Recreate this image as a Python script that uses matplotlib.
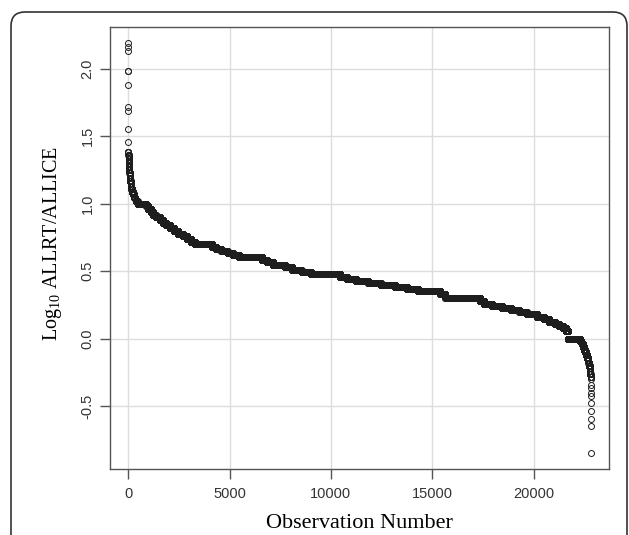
"""Sorted log10 ALLRT/ALLICE ratios vs observation number (R-style scatter)."""

import matplotlib

matplotlib.use("Agg")
import matplotlib.pyplot as plt  # noqa: E402
import numpy as np  # noqa: E402
from matplotlib.patches import FancyBboxPatch  # noqa: E402
from matplotlib.ticker import FormatStrFormatter  # noqa: E402

# distinct log10 ratio values, largest first, and how many observations share each
levels = [
    2.19, 2.16, 2.13, 1.98, 1.88, 1.72, 1.69, 1.55, 1.46,
    1.38, 1.36, 1.35, 1.33, 1.32, 1.30, 1.28, 1.27, 1.25, 1.23,
    1.21, 1.19, 1.17, 1.15, 1.13, 1.11, 1.09, 1.07, 1.05, 1.04,
    1.02, 1.00, 0.98, 0.96, 0.94, 0.92, 0.903, 0.88, 0.86, 0.845,
    0.82, 0.80, 0.778, 0.76, 0.74, 0.72, 0.699, 0.68, 0.663, 0.653,
    0.638, 0.62, 0.602, 0.58, 0.568, 0.544, 0.53, 0.51, 0.494, 0.477,
    0.46, 0.44, 0.43, 0.415, 0.398, 0.38, 0.368, 0.352, 0.33, 0.301,
    0.28, 0.26, 0.243, 0.23, 0.215, 0.20, 0.18, 0.16, 0.146, 0.125,
    0.11, 0.097, 0.08, 0.058, 0.0, -0.02, -0.04, -0.06, -0.08, -0.10,
    -0.12, -0.14, -0.16, -0.18, -0.20, -0.22, -0.24, -0.26, -0.28,
    -0.297, -0.34, -0.364, -0.40, -0.426, -0.475, -0.537, -0.594, -0.649, -0.846,
]
counts = [
    1, 1, 1, 2, 1, 1, 1, 1, 1,
    4, 4, 5, 5, 6, 6, 7, 8, 9, 10,
    12, 14, 16, 20, 24, 30, 35, 40, 45, 50,
    100, 440, 90, 120, 130, 110, 200, 170, 150, 200,
    200, 180, 250, 200, 200, 200, 850, 200, 250, 300,
    250, 300, 1150, 250, 300, 600, 350, 450, 450, 1450,
    350, 450, 600, 600, 700, 600, 550, 1100, 250, 1700,
    200, 400, 500, 450, 400, 350, 500, 350, 250, 300,
    200, 200, 150, 100, 600, 60, 60, 50, 50, 60,
    50, 40, 35, 30, 25, 20, 15, 10, 5,
    1, 1, 1, 1, 1, 1, 1, 1, 1, 1,
]
xticks = [0, 5000, 10000, 15000, 20000]
yticks = [-0.5, 0.0, 0.5, 1.0, 1.5, 2.0]

assert len(levels) == len(counts)
y = np.repeat(levels, counts)
x = np.arange(1, len(y) + 1)

plt.rcParams["font.family"] = ["Liberation Sans", "DejaVu Sans"]
plt.rcParams["axes.unicode_minus"] = False
plt.rcParams["mathtext.default"] = "regular"

fig = plt.figure(figsize=(6.29, 5.35), dpi=100)
ax = fig.add_axes([0.1744, 0.1228, 0.7943, 0.8273])

ax.plot(x, y, "o", ms=4.3, mfc="none", mec="#1e1e1e", mew=0.7, zorder=3)
ax.margins(0.04)

ax.set_xticks(xticks)
ax.set_yticks(yticks)
ax.yaxis.set_major_formatter(FormatStrFormatter("%.1f"))
ax.grid(True, color="#dcdcdc", lw=1.0, zorder=0)
ax.set_axisbelow(True)
for s in ax.spines.values():
    s.set_color("#555555")
    s.set_linewidth(1.0)
ax.tick_params(length=7, width=1.0, color="#555555", labelcolor="#333333",
               labelsize=10.5, pad=5.5)
ax.tick_params(axis="y", pad=4)
for lab in ax.get_yticklabels():
    lab.set_rotation(90)
    lab.set_va("center")

ax.set_xlabel("Observation Number", family="Liberation Serif", fontsize=16,
              va="top")
ax.xaxis.set_label_coords(0.5, -0.101)
ax.set_ylabel("Log$_{10}$ ALLRT/ALLICE", family="Liberation Serif", fontsize=14.5)
ax.yaxis.set_label_coords(-0.091, 0.51)

# rounded frame around the panel, cut off at the bottom
frame = FancyBboxPatch((0.11, -0.6), 6.16, 5.23 + 0.6,
                       boxstyle="round,pad=0,rounding_size=0.14",
                       transform=fig.dpi_scale_trans, fill=False,
                       ec="#333333", lw=1.2, clip_on=False)
fig.add_artist(frame)

fig.savefig("out.png", dpi=100)
plt.close(fig)
